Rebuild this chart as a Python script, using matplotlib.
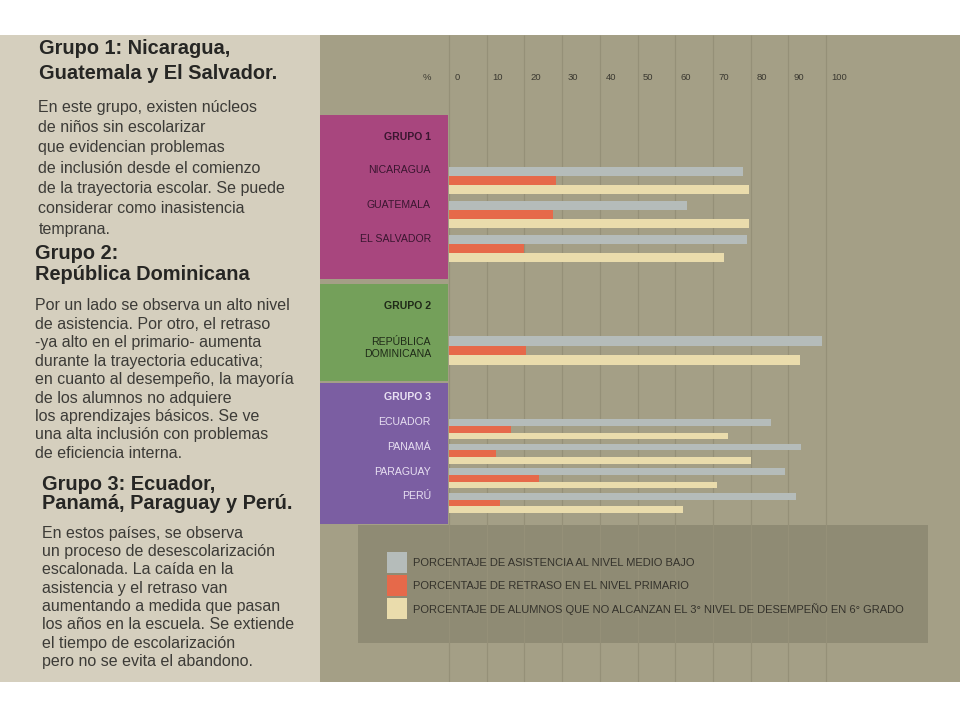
import matplotlib as mpl
mpl.use('Agg')
import matplotlib.pyplot as plt
from matplotlib.patches import Rectangle

plt.rcParams['font.family'] = ['Liberation Sans', 'DejaVu Sans']

# data (percent)
countries = ['NICARAGUA', 'GUATEMALA', 'EL SALVADOR', 'REPÚBLICA\nDOMINICANA',
             'ECUADOR', 'PANAMÁ', 'PARAGUAY', 'PERÚ']
group_of = [0, 0, 0, 1, 2, 2, 2, 2]
groups = ['GRUPO 1', 'GRUPO 2', 'GRUPO 3']
asistencia = [78, 63, 79, 99, 85.5, 93.5, 89, 92]
retraso = [28.5, 27.5, 20, 20.5, 16.5, 12.5, 24, 13.5]
desempeno = [79.5, 79.5, 73, 93, 74, 80, 71, 62]
ticks = [0, 10, 20, 30, 40, 50, 60, 70, 80, 90, 100]
series_labels = [
    'PORCENTAJE DE ASISTENCIA AL NIVEL MEDIO BAJO',
    'PORCENTAJE DE RETRASO EN EL NIVEL PRIMARIO',
    'PORCENTAJE DE ALUMNOS QUE NO ALCANZAN EL 3° NIVEL DE DESEMPEÑO EN 6° GRADO',
]

heading_1 = ['Grupo 1: Nicaragua,', 'Guatemala y El Salvador.']
body_1 = ['En este grupo, existen núcleos',
          'de niños sin escolarizar',
          'que evidencian problemas',
          'de inclusión desde el comienzo',
          'de la trayectoria escolar. Se puede',
          'considerar como inasistencia',
          'temprana.']
heading_2 = ['Grupo 2:', 'República Dominicana']
body_2 = ['Por un lado se observa un alto nivel',
          'de asistencia. Por otro, el retraso',
          '-ya alto en el primario- aumenta',
          'durante la trayectoria educativa;',
          'en cuanto al desempeño, la mayoría',
          'de los alumnos no adquiere',
          'los aprendizajes básicos. Se ve',
          'una alta inclusión con problemas',
          'de eficiencia interna.']
heading_3 = ['Grupo 3: Ecuador,', 'Panamá, Paraguay y Perú.']
body_3 = ['En estos países, se observa',
          'un proceso de desescolarización',
          'escalonada. La caída en la',
          'asistencia y el retraso van',
          'aumentando a medida que pasan',
          'los años en la escuela. Se extiende',
          'el tiempo de escolarización',
          'pero no se evita el abandono.']

# colours
bg_right = '#a49f86'
bg_left = '#d5cfbe'
grid_c = '#959078'
bar_colors = ['#b5bcba', '#e6694a', '#eadcac']
panel_colors = ['#a8467e', '#74a05a', '#7b5ea2']
panel_text = ['#3a1630', '#1f2a18', '#e8e0f2']

# layout in pixel rows (y from top)
row_y = [171, 205, 239, 341, 422.5, 447, 471.7, 496.3]
bar_h = [9, 9, 9, 9.4, 6.7, 6.7, 6.7, 6.7]
label_y = [170, 205, 239, 348, 422.3, 446.7, 471.7, 496]
panel_span = [(115, 278.5), (284, 381), (383, 523.5)]
group_label_y = [136.7, 306, 397.3]

fig = plt.figure(figsize=(9.6, 7.2), dpi=100)
fig.patch.set_facecolor('white')

# ---- left text panel
axl = fig.add_axes([0, 38 / 720, 320 / 960, 647 / 720])
axl.set_xlim(0, 320)
axl.set_ylim(682, 35)
axl.set_facecolor(bg_left)
axl.set_xticks([])
axl.set_yticks([])
for s in axl.spines.values():
    s.set_visible(False)


def write_block(ax, lines, x, y0, step, **kw):
    for i, line in enumerate(lines):
        ax.text(x, y0 + i * step, line, va='center', ha='left', **kw)


hkw = dict(fontsize=14.4, fontweight='bold', color='#262624')
bkw = dict(fontsize=11.5, color='#3c3b37')
write_block(axl, heading_1, 39, 48.3, 25, **hkw)
write_block(axl, body_1, 38.3, 107.3, 20.3, **bkw)
write_block(axl, heading_2, 35, 253.3, 21.7, **hkw)
write_block(axl, body_2, 35, 306, 18.4, **bkw)
write_block(axl, heading_3, 41.7, 485, 18.5, **hkw)
write_block(axl, body_3, 41.7, 533.3, 18.3, **bkw)

# ---- right chart panel
x0_px, px_per_unit = 449, 3.77
ax = fig.add_axes([320 / 960, 38 / 720, 640 / 960, 647 / 720])
ax.set_xlim((320 - x0_px) / px_per_unit, (960 - x0_px) / px_per_unit)
ax.set_ylim(682, 35)
ax.set_facecolor(bg_right)
ax.set_xticks([])
ax.set_yticks([])
for s in ax.spines.values():
    s.set_visible(False)
xmin = ax.get_xlim()[0]

# group panels
for g, (top, bot) in enumerate(panel_span):
    ax.add_patch(Rectangle((xmin, top), -xmin - 0.3, bot - top,
                           facecolor=panel_colors[g], edgecolor='none', zorder=3))
    ax.text(-4.8, group_label_y[g], groups[g], ha='right', va='center',
            fontsize=7.6, fontweight='bold', color=panel_text[g], zorder=4)

for i, name in enumerate(countries):
    ax.text(-4.8, label_y[i], name, ha='right', va='center', fontsize=7.6,
            color=panel_text[group_of[i]], zorder=4, linespacing=1.35)

# legend box
ax.add_patch(Rectangle(((358 - x0_px) / px_per_unit, 525),
                       (928 - 358) / px_per_unit, 643 - 525,
                       facecolor='#8f8b74', edgecolor='none', zorder=1))

# grid lines and tick labels
ax.vlines(ticks, 35, 682, colors=grid_c, linewidth=0.9, zorder=2)
for t in ticks:
    ax.text(t + 1.5, 78, str(t), ha='left', va='center', fontsize=6.8,
            color='#3a3830')
ax.text(-5.8, 78, '%', ha='center', va='center', fontsize=6.8, color='#3a3830')

# bars
for k, series in enumerate([asistencia, retraso, desempeno]):
    ys = [row_y[i] + k * bar_h[i] for i in range(len(countries))]
    ax.barh(ys, series, height=bar_h, left=0, color=bar_colors[k],
            edgecolor='none', zorder=3)

# legend swatches
sw_x0 = (386.5 - x0_px) / px_per_unit
sw_w = 20 / px_per_unit
sw_tops = [552, 575, 598.3]
for k, lab in enumerate(series_labels):
    ax.add_patch(Rectangle((sw_x0, sw_tops[k]), sw_w, 21,
                           facecolor=bar_colors[k], edgecolor='none', zorder=3))
    ax.text((413 - x0_px) / px_per_unit, sw_tops[k] + 11, lab, ha='left',
            va='center', fontsize=8.0, color='#34322b', zorder=4)

fig.savefig('out.png', dpi=100, facecolor='white')
